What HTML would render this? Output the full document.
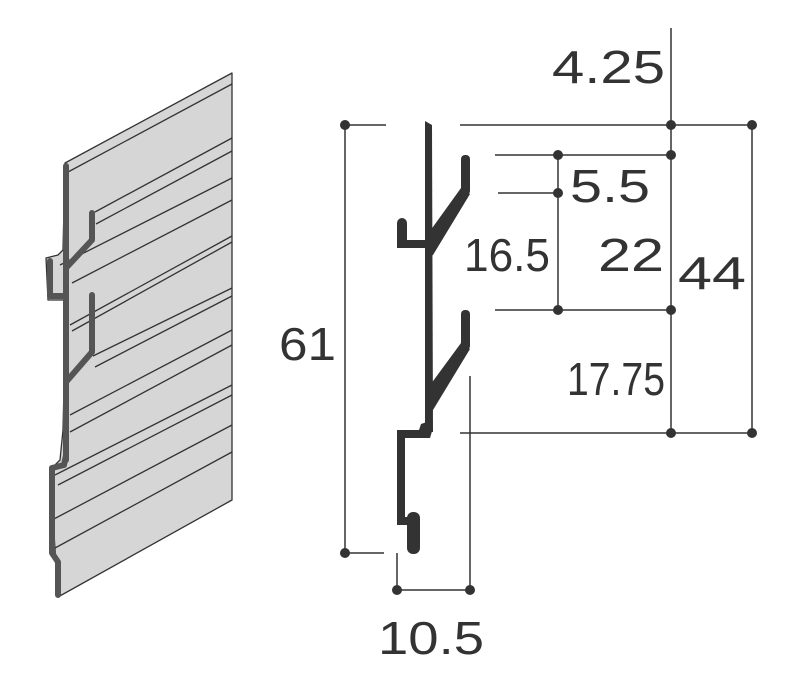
<!DOCTYPE html>
<html><head><meta charset="utf-8"><style>
html,body{margin:0;padding:0;background:#fff;}
svg{display:block}
text{font-family:"Liberation Sans",sans-serif;fill:#333;font-size:46px}
</style></head><body>
<svg width="786" height="674" viewBox="0 0 786 674" xmlns="http://www.w3.org/2000/svg">
<!-- Left isometric panel -->
<g stroke="#333" stroke-width="1.3" stroke-linejoin="round">
<polygon points="65,163 232,73 232,500 58,597 50,470 60,460 63,430 66,300 48,300 46,258 58,255 63,250" fill="#d6d6d6"/>
<polyline fill="none" points="68,172 232,84"/>
<polyline fill="none" points="95,212 232,138"/>
<polyline fill="none" points="96,224 232,151"/>
<polyline fill="none" points="60,265 232,178"/>
<polyline fill="none" points="72,283 232,200"/>
<polyline fill="none" points="70,325 232,236"/>
<polyline fill="none" points="72,331 232,242"/>
<polyline fill="none" points="93,356 232,288"/>
<polyline fill="none" points="95,367 232,296"/>
<polyline fill="none" points="70,415 232,330"/>
<polyline fill="none" points="70,432 232,345"/>
<polyline fill="none" points="55,475 232,385"/>
<polyline fill="none" points="58,485 232,395"/>
<polyline fill="none" points="52,520 232,425"/>
<polyline fill="none" points="55,548 232,452"/>
</g>
<g stroke="#555" stroke-width="6" fill="none" stroke-linejoin="round" stroke-linecap="round">
<polyline points="66,166 66,460"/>
<polyline points="66,268 92,240 92,213"/>
<polyline points="66,296 50,296 50,261"/>
<polyline points="66,382 92,352 92,295"/>
<polyline points="66,455 64,465 52,468 52,553 58,562 58,595"/>
</g>
<!-- Profile -->
<g fill="#333">
<polygon points="425,121 432,125 433,432 425,432"/>
<polygon points="425,238 461,188 470,194 433,255 425,258"/>
<rect x="461" y="155" width="9" height="40" rx="4"/>
<rect x="397" y="218" width="10" height="30" rx="5"/>
<rect x="397" y="240" width="32" height="8"/>
<polygon points="425,392 461,343 470,349 433,410 425,412"/>
<rect x="461" y="310" width="9" height="40" rx="4"/>
<polygon points="397,430 419,430 421,424 427,422 433,428 430,438 405,438 405,525 397,525"/>
<rect x="397" y="517" width="20" height="8"/>
<rect x="407" y="512" width="13" height="42" rx="6"/>
</g>
<!-- dimension lines -->
<g stroke="#333" stroke-width="1.5" fill="none">
<line x1="345" y1="125" x2="386" y2="125"/>
<line x1="460" y1="125" x2="752" y2="125"/>
<line x1="671" y1="28" x2="671" y2="433"/>
<line x1="752" y1="125" x2="752" y2="433"/>
<line x1="495" y1="155" x2="671" y2="155"/>
<line x1="498" y1="193" x2="558" y2="193"/>
<line x1="558" y1="155" x2="558" y2="310"/>
<line x1="495" y1="310" x2="671" y2="310"/>
<line x1="460" y1="433" x2="752" y2="433"/>
<line x1="345" y1="125" x2="345" y2="553"/>
<line x1="345" y1="553" x2="384" y2="553"/>
<line x1="397" y1="553" x2="397" y2="590"/>
<line x1="470" y1="376" x2="470" y2="590"/>
<line x1="397" y1="590" x2="470" y2="590"/>
</g>
<g fill="#333">
<circle cx="345" cy="125" r="5"/><circle cx="671" cy="125" r="5"/><circle cx="752" cy="125" r="5"/>
<circle cx="558" cy="155" r="5"/><circle cx="671" cy="155" r="5"/>
<circle cx="558" cy="193" r="5"/>
<circle cx="558" cy="310" r="5"/><circle cx="671" cy="310" r="5"/>
<circle cx="671" cy="433" r="5"/><circle cx="752" cy="433" r="5"/>
<circle cx="345" cy="553" r="5"/>
<circle cx="397" cy="590" r="5"/><circle cx="470" cy="590" r="5"/>
</g>
<text x="665" y="83" text-anchor="end" textLength="113" lengthAdjust="spacingAndGlyphs">4.25</text>
<text x="570" y="202" textLength="80" lengthAdjust="spacingAndGlyphs">5.5</text>
<text x="550" y="271" text-anchor="end" textLength="86" lengthAdjust="spacingAndGlyphs">16.5</text>
<text x="664" y="271" text-anchor="end" textLength="66" lengthAdjust="spacingAndGlyphs">22</text>
<text x="678" y="289" textLength="68" lengthAdjust="spacingAndGlyphs">44</text>
<text x="665" y="395" text-anchor="end" textLength="98" lengthAdjust="spacingAndGlyphs">17.75</text>
<text x="279" y="360" textLength="57" lengthAdjust="spacingAndGlyphs">61</text>
<text x="378" y="654" textLength="106" lengthAdjust="spacingAndGlyphs">10.5</text>
</svg>
</body></html>
